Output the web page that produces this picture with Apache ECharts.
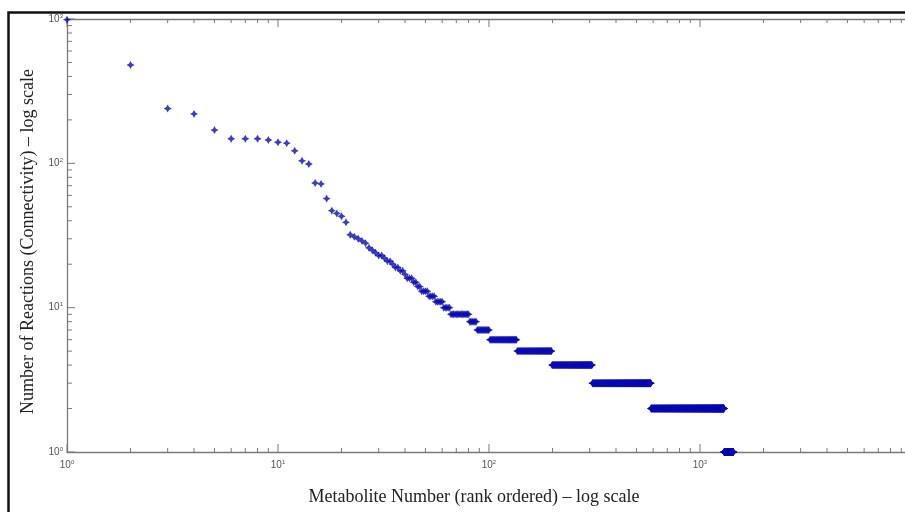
<!DOCTYPE html>
<html><head><meta charset="utf-8">
<script src="https://cdn.jsdelivr.net/npm/echarts@6/dist/echarts.min.js"></script>
<style>html,body{margin:0;padding:0;background:#fff}#c{width:905px;height:512px}</style>
</head><body><div id="c"></div>
<script>
// Connectivity of the individually resolved top-ranked metabolites (rank 1..40)
const topRankConnectivity = [990,480,240,220,170,148,148,148,145,140,138,122,104,99,73,72,57,47,45,43,39,32,31,30,29,28,26,25,24,23,23,22,21,21,20,19,19,18,18,17];
// Plateaus: connectivity level and how many consecutive ranks share it
const levelValues = [16,15,14,13,12,11,10,9,8,7,6,5,4,3,2,1];
const levelCounts = [3,2,2,4,4,5,5,15,7,13,35,63,110,277,715,140];
// Axis decorations
const xTickExponents = [0,1,2,3];
const yTickExponents = [0,1,2,3];
const minorMultipliers = [2,3,4,5,6,7,8,9];
const xViewMax = 9370;   // the x axis runs on past the right edge of the picture
const xTitle = 'Metabolite Number (rank ordered) \u2013 log scale';
const yTitle = 'Number of Reactions (Connectivity) \u2013 log scale';

const points = [];
let rank = 1;
topRankConnectivity.forEach(v => points.push([rank++, v]));
levelValues.forEach((v, i) => { for (let k = 0; k < levelCounts[i]; k++) points.push([rank++, v]); });

function ticksFor(exps, withLastMinor) {
  const out = [];
  exps.forEach((e, i) => {
    out.push([Math.pow(10, e), 1]);
    if (i < exps.length - 1 || withLastMinor) minorMultipliers.forEach(m => out.push([m * Math.pow(10, e), 0]));
  });
  return out;
}
const xTicks = ticksFor(xTickExponents, true);
const yTicks = ticksFor(yTickExponents, false);
const xMin = Math.pow(10, xTickExponents[0]);
const yMin = Math.pow(10, yTickExponents[0]), yMax = Math.pow(10, yTickExponents[yTickExponents.length - 1]);

const tickColor = '#7a7a7a';
const labelFmt = v => '{b|10}{s|' + Math.round(Math.log10(v)) + '}';
const rich = {
  b: { fontSize: 10, color: '#555', fontFamily: 'Liberation Sans', lineHeight: 12 },
  s: { fontSize: 6, color: '#555', fontFamily: 'Liberation Sans', verticalAlign: 'top', lineHeight: 6 }
};
const axisLineStyle = { show: true, lineStyle: { color: tickColor, width: 1.3 } };

const chart = echarts.init(document.getElementById('c'), null, { renderer: 'canvas' });
chart.setOption({
  animation: false,
  backgroundColor: '#fff',
  grid: { left: 67, top: 19, right: 0, bottom: 60, show: false },
  xAxis: [{
    type: 'log', logBase: 10, min: xMin, max: xViewMax, position: 'bottom',
    axisLine: axisLineStyle, axisTick: { show: false }, splitLine: { show: false },
    axisLabel: { formatter: labelFmt, rich: rich, margin: 7, showMaxLabel: false },
    name: xTitle, nameLocation: 'middle', nameGap: 36,
    nameTextStyle: { fontFamily: 'Liberation Serif', fontSize: 18, color: '#222', padding: [0, 24, 0, 0] }
  }, {
    type: 'log', logBase: 10, min: xMin, max: xViewMax, position: 'top',
    axisLine: axisLineStyle, axisTick: { show: false }, splitLine: { show: false }, axisLabel: { show: false }
  }],
  yAxis: {
    type: 'log', logBase: 10, min: yMin, max: yMax,
    axisLine: axisLineStyle, axisTick: { show: false }, splitLine: { show: false },
    axisLabel: { formatter: labelFmt, rich: rich, margin: 4 },
    name: yTitle, nameLocation: 'middle', nameGap: 30,
    nameTextStyle: { fontFamily: 'Liberation Serif', fontSize: 18, color: '#222', padding: [0, 12, 0, 0] }
  },
  graphic: [{
    type: 'rect', shape: { x: 8.5, y: 12.5, width: 1000, height: 1000 },
    style: { fill: 'none', stroke: '#111', lineWidth: 2.5 }, z: 100, silent: true
  }],
  series: [
    {
      type: 'custom', clip: false, silent: true, data: xTicks,
      renderItem: (params, api) => {
        const v = api.value(0), len = api.value(1) ? 8 : 4;
        const b = api.coord([v, yMin]), t = api.coord([v, yMax]);
        const st = { stroke: tickColor, lineWidth: 1 };
        return { type: 'group', children: [
          { type: 'line', shape: { x1: b[0], y1: b[1], x2: b[0], y2: b[1] - len }, style: st },
          { type: 'line', shape: { x1: t[0], y1: t[1], x2: t[0], y2: t[1] + len }, style: st }
        ] };
      }
    },
    {
      type: 'custom', clip: false, silent: true, data: yTicks.map(t => [xMin, t[0], t[1]]),
      encode: { x: 0, y: 1 },
      renderItem: (params, api) => {
        const v = api.value(1), len = api.value(2) ? 8 : 5;
        const l = api.coord([xMin, v]);
        const st = { stroke: tickColor, lineWidth: 1 };
        return { type: 'line', shape: { x1: l[0], y1: l[1], x2: l[0] + len, y2: l[1] }, style: st };
      }
    },
    {
      type: 'scatter', data: points, clip: false,
      symbol: 'path://M0,-10 L3.6,-3.6 L10,0 L3.6,3.6 L0,10 L-3.6,3.6 L-10,0 L-3.6,-3.6 Z',
      symbolSize: 8,
      itemStyle: { color: '#0c0cb4' }
    }
  ]
});
</script></body></html>
